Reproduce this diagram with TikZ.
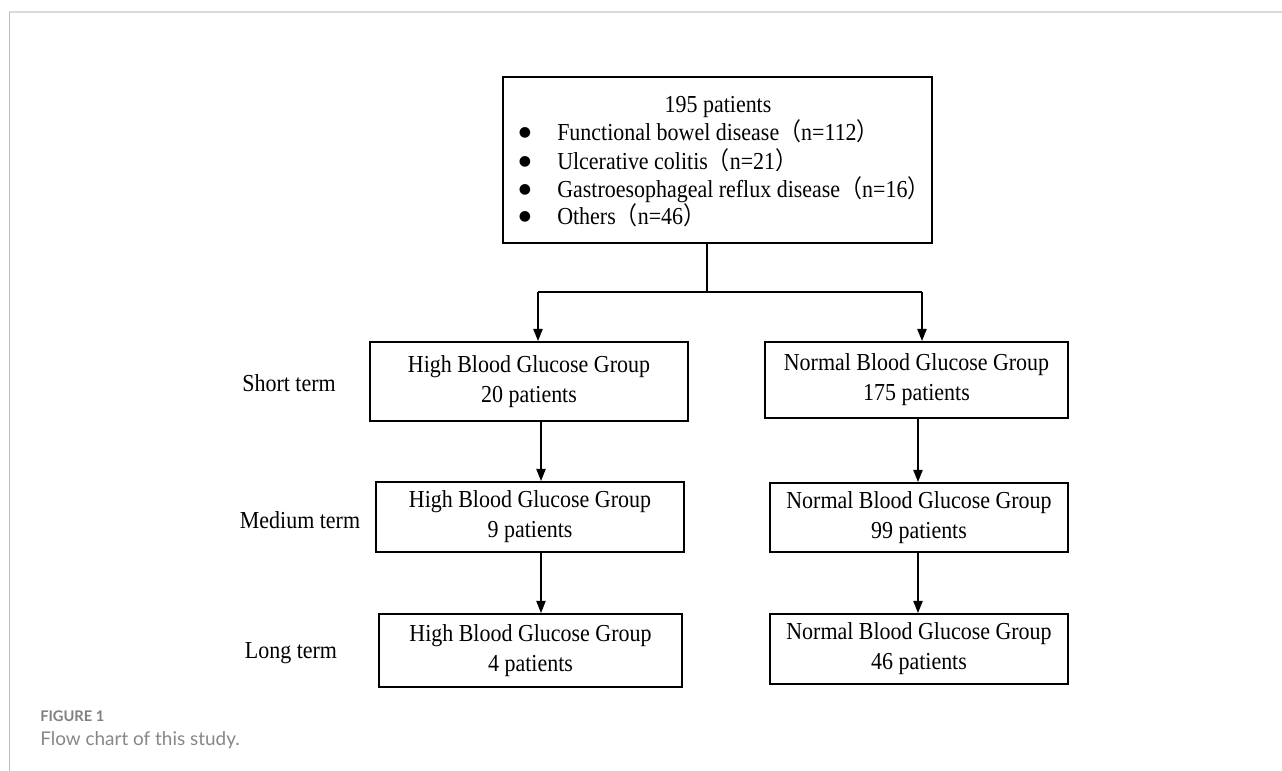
\documentclass[tikz,border=0pt]{standalone}
\usepackage{fontspec}
\setmainfont{Liberation Serif}
\newfontfamily\boxfont[FakeStretch=0.9]{Liberation Serif}
\newfontfamily\capfont{Lato}
\newfontfamily\cjkfont[FakeStretch=0.9]{Noto Sans CJK SC}
\newfontfamily\symfont{DejaVu Sans}
\usepackage{tikz}
\usetikzlibrary{arrows.meta,positioning}

\newcommand{\lp}{{\cjkfont （}}
\newcommand{\rp}{{\cjkfont ）}}

\begin{document}
\begin{tikzpicture}[x=0.75pt,y=-0.75pt,
    txt/.style={font=\boxfont\fontsize{18.3}{22.5}\selectfont,inner sep=0pt},
    group/.style={rectangle,draw=black,line width=1.6pt,inner sep=0pt,align=center,
                  font=\boxfont\fontsize{18.3}{22.5}\selectfont},
    dot/.style={inner sep=0pt,font=\symfont\fontsize{10.5}{10.5}\selectfont},
    link/.style={line width=0.8pt,black},
    arr/.style={link,-{Triangle[length=9pt,width=7pt]}},
   ]
    \useasboundingbox (0,0) rectangle (1282,771);

    % page frame
    \draw[line width=1.5pt, black!14] (9,12) -- (1282,12);
    \draw[line width=0.75pt, black!25] (9,12) -- (9,771);

    % top box
    \node (all) [group,minimum width=321.75pt,minimum height=124.5pt] at (717.5,160) {};
    \node (count) [txt,anchor=base] at (718,112) {195 patients};
    \node (b1) [dot] at (525,133) {●}; \node (fbd) [txt,anchor=base west] at (557,140) {Functional bowel disease\lp n=112\rp};
    \node (b2) [dot] at (525,162) {●}; \node (uc)  [txt,anchor=base west] at (557,169) {Ulcerative colitis\lp n=21\rp};
    \node (b3) [dot] at (525,190) {●}; \node (gerd)[txt,anchor=base west] at (557,197) {Gastroesophageal reflux disease\lp n=16\rp};
    \node (b4) [dot] at (525,217) {●}; \node (oth) [txt,anchor=base west] at (557,224) {Others\lp n=46\rp};

    % groups
    \node (hi1) [group,minimum width=238.5pt,minimum height=59.25pt] at (529,381.5)  {High Blood Glucose Group\\20 patients};
    \node (no1) [group,minimum width=227.25pt,minimum height=57pt]   at (916.5,380)  {Normal Blood Glucose Group\\175 patients};
    \node (hi2) [group,minimum width=231pt,minimum height=52.5pt]    at (530,517)    {High Blood Glucose Group\\9 patients};
    \node (no2) [group,minimum width=223.5pt,minimum height=51.75pt] at (919,517.5)  {Normal Blood Glucose Group\\99 patients};
    \node (hi3) [group,minimum width=227.25pt,minimum height=54.75pt] at (530.5,650.5) {High Blood Glucose Group\\4 patients};
    \node (no3) [group,minimum width=223.5pt,minimum height=52.5pt]  at (919,649)    {Normal Blood Glucose Group\\46 patients};

    % terms
    \node (short) [txt] at (289,383) {Short term};
    \node (medium)[txt] at (300,520) {Medium term};
    \node (long)  [txt] at (291,653) {Long term};

    % connectors
    \coordinate (stem) at (707,292);
    \coordinate (split_l) at (538,292);
    \coordinate (split_r) at (922,292);
    \coordinate (col_l) at (541,0);
    \coordinate (col_r) at (918,0);
    \draw[link,line width=1.6pt] (all.south -| stem) -- (stem);
    \draw[link] (split_l) -- (split_r);
    \draw[arr] (split_l) -- (hi1.north -| split_l);
    \draw[arr] (split_r) -- (no1.north -| split_r);
    \draw[arr] (hi1.south -| col_l) -- (hi2.north -| col_l);
    \draw[arr] (no1.south -| col_r) -- (no2.north -| col_r);
    \draw[arr] (hi2.south -| col_l) -- (hi3.north -| col_l);
    \draw[arr] (no2.south -| col_r) -- (no3.north -| col_r);

    % caption
    \node (fig) [anchor=base west,inner sep=0pt,text=black!50,font=\capfont\bfseries\fontsize{11}{13}\selectfont] at (40,721) {FIGURE 1};
    \node (cap) [anchor=base west,inner sep=0pt,text=black!47,font=\capfont\fontsize{14.2}{16}\selectfont] at (40,745) {Flow chart of this study.};
\end{tikzpicture}
\end{document}
